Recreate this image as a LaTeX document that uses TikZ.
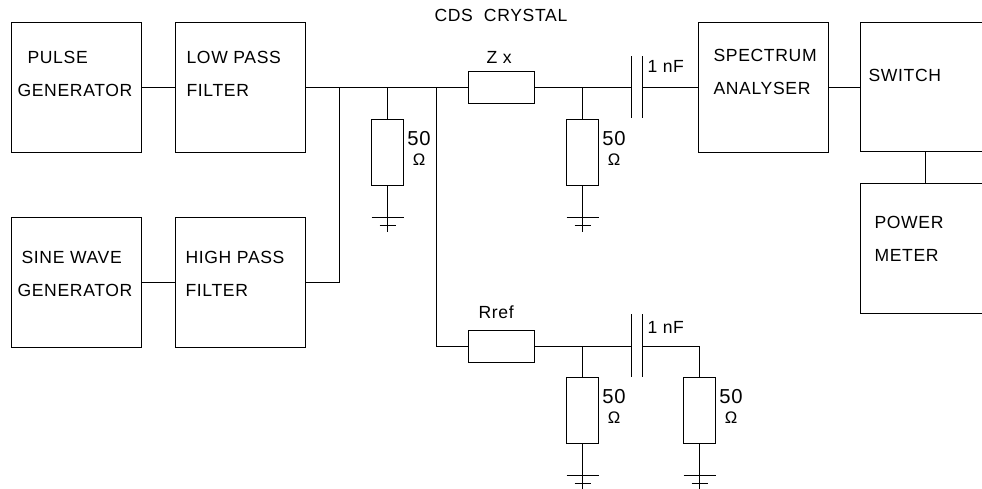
\documentclass[tikz,border=0pt]{standalone}
\usepackage{fontspec}
\setmainfont{Liberation Sans}[LetterSpace=3.7]
\tikzset{
    block/.style={draw,minimum width=2.6cm,minimum height=2.6cm,inner sep=0pt},
    resv/.style={draw,minimum width=0.64cm,minimum height=1.32cm,inner sep=0pt},
    resh/.style={draw,minimum width=1.32cm,minimum height=0.64cm,inner sep=0pt},
    txt/.style={anchor=west,inner sep=0pt,font=\fontsize{10}{10}\selectfont},
    ohm/.style={anchor=center,inner sep=0pt,align=center}
}
\begin{document}
\begin{tikzpicture}[x=0.02cm,y=-0.02cm,line width=0.6pt]
    \useasboundingbox (0,0) rectangle (982,488);

    \node[block] (pulse) at (76.5,87.5) {};
    \node[txt] (pulsea) at (27,57) {PULSE};
    \node[txt] (pulseb) at (17,90) {GENERATOR};

    \node[block] (lowpass) at (240.5,87.5) {};
    \node[txt] (lowa) at (186,57) {LOW PASS};
    \node[txt] (lowb) at (186,90) {FILTER};

    \node[block] (sine) at (76.5,282.5) {};
    \node[txt] (sinea) at (21,257) {SINE WAVE};
    \node[txt] (sineb) at (17,290) {GENERATOR};

    \node[block] (highpass) at (240.5,282.5) {};
    \node[txt] (higha) at (185,257) {HIGH PASS};
    \node[txt] (highb) at (185,290) {FILTER};

    \node[txt] (crystal) at (434,15) {CDS\ \ CRYSTAL};

    \node[resh] (zx) at (501.5,87.5) {};
    \node[txt] (zxtxt) at (486,57) {Z x};
    \node[resh] (rref) at (501.5,346.5) {};
    \node[txt] (rreftxt) at (478,312) {Rref};

    \node[resv] (ra) at (387.5,152.5) {};
    \node[resv] (rb) at (582.5,152.5) {};
    \node[resv] (rc) at (582.5,410.5) {};
    \node[resv] (rd) at (699.5,410.5) {};

    \foreach \r in {ra,rb,rc,rd}{
        \node[ohm] (\r txt) at ([shift={(15,-4)}]\r.east) {\fontsize{11.5}{11.5}\selectfont 50\\[-1pt]\fontsize{9.5}{9.5}\selectfont Ω};
        \draw (\r.south)--++(0,46);
        \draw ([shift={(-16,31)}]\r.south)--++(32,0);
        \draw ([shift={(-8,39)}]\r.south)--++(16,0);
    }

    \node[block] (spectrum) at (763.5,87.5) {};
    \node[txt] (speca) at (713,55) {SPECTRUM};
    \node[txt] (specb) at (713,88) {ANALYSER};

    % cut by the edge of the page
    \draw (982,22.5)--(860.5,22.5)--(860.5,151.5)--(982,151.5);
    \coordinate (switchw) at (860.5,87.5);
    \coordinate (switchs) at (925.5,151.5);
    \node[txt] (switchtxt) at (868,75) {SWITCH};

    \draw (982,183.5)--(860.5,183.5)--(860.5,313.5)--(982,313.5);
    \coordinate (powern) at (925.5,183.5);
    \node[txt] (powera) at (874,222) {POWER};
    \node[txt] (powerb) at (874,255) {METER};

    % capacitors
    \coordinate (caa) at (631.5,87.5);
    \coordinate (cab) at (642.5,87.5);
    \coordinate (cba) at (631.5,346.5);
    \coordinate (cbb) at (642.5,346.5);
    \draw (631.5,56)--(631.5,118);
    \draw (642.5,56)--(642.5,118);
    \draw (631.5,314)--(631.5,377);
    \draw (642.5,314)--(642.5,377);
    \node[txt] (catxt) at (647,66) {1 nF};
    \node[txt] (cbtxt) at (647,327) {1 nF};

    % junctions
    \coordinate (ja) at (339.5,87.5);
    \coordinate (jb) at (436.5,87.5);

    \draw (pulse)--(lowpass);
    \draw (sine)--(highpass);
    \draw (lowpass.east)--(zx.west);
    \draw (highpass.east)-|(ja);
    \draw (jb)|-(rref.west);
    \draw (ra.north)--(ra.north|-ja);
    \draw (zx.east)--(caa);
    \draw (rb.north)--(rb.north|-caa);
    \draw (cab)--(spectrum.west);
    \draw (spectrum.east)--(switchw);
    \draw (switchs)--(powern);
    \draw (rref.east)--(cba);
    \draw (rc.north)--(rc.north|-cba);
    \draw (cbb)-|(rd.north);
\end{tikzpicture}
\end{document}
